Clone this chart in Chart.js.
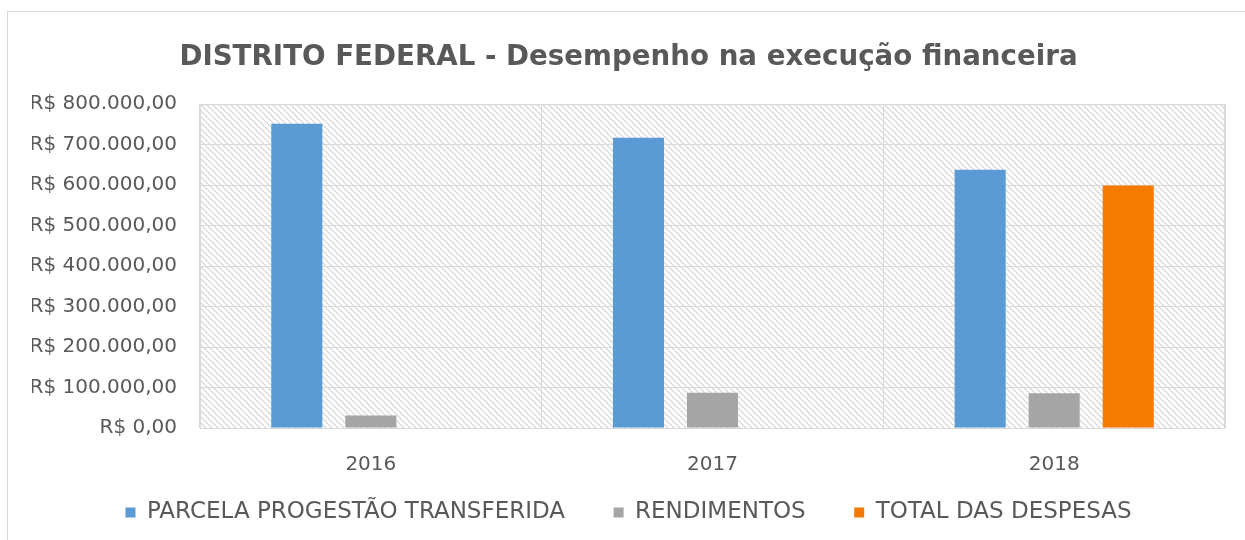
<!DOCTYPE html>
<html>
<head>
<meta charset="utf-8">
<script src="https://cdn.jsdelivr.net/npm/chart.js@4/dist/chart.umd.min.js"></script>
<style>
  html, body { margin: 0; padding: 0; background: #fff; }
  #frame { position: absolute; left: 7px; top: 11px; width: 1260px; height: 560px; border: 1px solid #d9d9d9; }
  #wrap { position: absolute; left: 0; top: 0; width: 1245px; height: 540px; }
</style>
</head>
<body>
<div id="frame"></div>
<div id="wrap"><canvas id="c"></canvas></div>
<script>
// dados
const anos = ['2016', '2017', '2018'];
const parcela = [752000, 717000, 638000];
const rendimentos = [31000, 87000, 86000];
const despesas = [null, null, 599000];
const yTicks = [0, 100000, 200000, 300000, 400000, 500000, 600000, 700000, 800000];

const FONT = "'DejaVu Sans', sans-serif";
const TXT = '#595959';

// formato R$ 800.000,00
function brl(v) {
  const inteiro = Math.round(v).toString().replace(/\B(?=(\d{3})+(?!\d))/g, '.');
  return 'R$ ' + inteiro + ',00';
}

// fundo hachurado da área do gráfico
function makeHatch(ctx) {
  const p = document.createElement('canvas');
  p.width = 6; p.height = 6;
  const g = p.getContext('2d');
  g.fillStyle = '#fff'; g.fillRect(0, 0, 6, 6);
  g.strokeStyle = '#d4d4d4'; g.lineWidth = 1.2;
  g.beginPath();
  g.moveTo(-1, -1); g.lineTo(7, 7);
  g.moveTo(-1, 5); g.lineTo(1, 7);
  g.moveTo(5, -1); g.lineTo(7, 1);
  g.stroke();
  return ctx.createPattern(p, 'repeat');
}

const hatchPlugin = {
  id: 'hatch',
  beforeDraw(chart) {
    const ca = chart.chartArea, ctx = chart.ctx;
    ctx.save();
    ctx.fillStyle = makeHatch(ctx);
    ctx.fillRect(ca.left, ca.top, ca.right - ca.left, ca.bottom - ca.top);
    ctx.restore();
  },
  afterDatasetsDraw(chart) {
    const ca = chart.chartArea, ctx = chart.ctx;
    ctx.save();
    ctx.strokeStyle = '#d9d9d9'; ctx.lineWidth = 1;
    ctx.strokeRect(ca.left + 0.5, ca.top + 0.5, ca.right - ca.left - 1, ca.bottom - ca.top);
    ctx.restore();
  }
};

// espaço extra entre os itens da legenda (o padding do Chart.js vale também na vertical)
const GAP = '     ';

new Chart(document.getElementById('c'), {
  type: 'bar',
  data: {
    labels: anos,
    datasets: [
      { label: 'PARCELA PROGESTÃO TRANSFERIDA', data: parcela, backgroundColor: '#5B9BD5' },
      { label: 'RENDIMENTOS', data: rendimentos, backgroundColor: '#A5A5A5' },
      { label: 'TOTAL DAS DESPESAS', data: despesas, backgroundColor: '#F47B00' }
    ]
  },
  options: {
    responsive: true,
    maintainAspectRatio: false,
    animation: false,
    layout: { padding: { left: 32, right: 20, top: 41, bottom: 6 } },
    datasets: { bar: { categoryPercentage: 0.65, barPercentage: 0.69 } },
    plugins: {
      title: {
        display: true,
        text: 'DISTRITO FEDERAL - Desempenho na execução financeira',
        color: TXT,
        font: { family: FONT, size: 27.7, weight: 'bold' },
        padding: { top: 0, bottom: 30 }
      },
      legend: {
        position: 'bottom',
        labels: {
          color: TXT,
          font: { family: FONT, size: 23 },
          boxWidth: 10, boxHeight: 10,
          padding: 12,
          generateLabels: chart => {
            const items = Chart.defaults.plugins.legend.labels.generateLabels(chart);
            items.forEach((it, i) => { if (i < items.length - 1) it.text += GAP; });
            return items;
          }
        }
      },
      tooltip: { enabled: false }
    },
    scales: {
      x: {
        afterFit: axis => { axis.height = 61; },
        grid: { color: '#d9d9d9', drawTicks: false },
        border: { display: false },
        ticks: { color: TXT, font: { family: FONT, size: 20 }, padding: 25 }
      },
      y: {
        min: 0, max: 800000,
        afterFit: axis => { axis.width = 168; },
        afterBuildTicks: axis => { axis.ticks = yTicks.map(v => ({ value: v })); },
        grid: { color: '#d9d9d9', drawTicks: false },
        border: { display: false },
        ticks: { color: TXT, font: { family: FONT, size: 20 }, padding: 23, callback: v => brl(v) }
      }
    }
  },
  plugins: [hatchPlugin]
});
</script>
</body>
</html>
